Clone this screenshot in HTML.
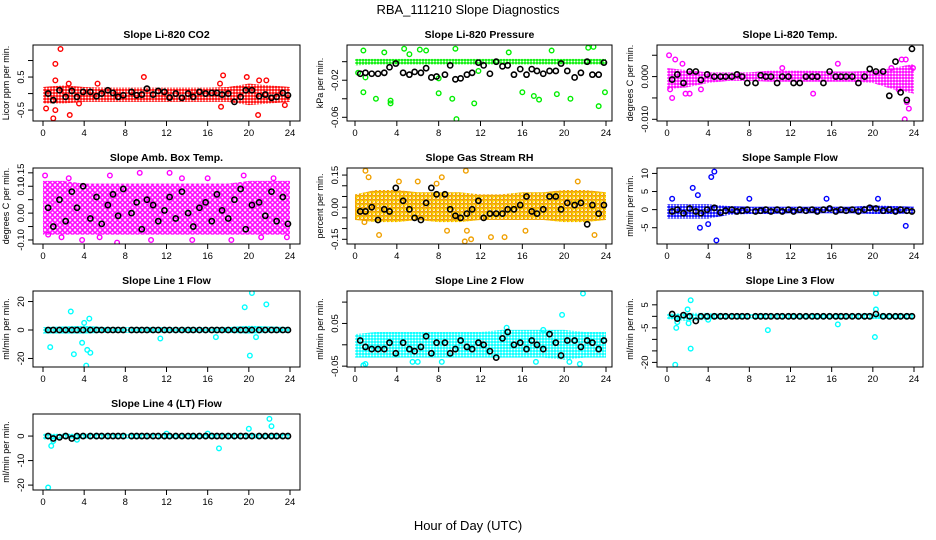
<!DOCTYPE html>
<html><head><meta charset="utf-8"><style>
html,body{margin:0;padding:0;background:#fff;}
svg{display:block;font-family:"Liberation Sans",sans-serif;}
</style></head><body>
<svg id="c" width="936" height="540" viewBox="0 0 936 540">
<text x="468" y="14" text-anchor="middle" font-size="13">RBA_111210  Slope Diagnostics</text>
<text x="468" y="530" text-anchor="middle" font-size="13">Hour of Day (UTC)</text>
</svg>
<script>
const bx=[0.5,1,1.6,2.2,2.8,3.3,3.9,4.6,5.2,5.7,6.3,6.8,7.3,7.8,8.6,9.1,9.6,10.1,10.7,11.2,11.8,12.3,12.9,13.5,14.1,14.6,15.2,15.8,16.4,16.9,17.4,18,18.6,19.2,19.7,20.3,21,21.6,22.2,22.7,23.3,23.8];
const bandX=[0,2,4,6,8,10,12,14,16,18,20,22,24];
const xTicks=[0,4,8,12,16,20,24];

const co2Lo=[-0.3,-0.3,-0.25,-0.25,-0.25,-0.25,-0.25,-0.25,-0.25,-0.25,-0.35,-0.3,-0.25];
const co2Hi=[0.2,0.25,0.2,0.18,0.18,0.18,0.18,0.18,0.18,0.2,0.3,0.25,0.2];
const co2OutX=[1.7,1.2,1.0,0.3,1.2,2.6,1.2,2.5,5.3,9.8,17.3,17.5,19.8,20.9,21.0,21.7,23.5,17.2,3.5];
const co2OutY=[1.35,0.9,-0.75,-0.45,-0.5,-0.65,0.4,0.3,0.3,0.5,-0.4,0.55,0.5,-0.65,0.4,0.4,-0.35,0.3,-0.3];
const co2Black=[0,-0.2,0.1,-0.1,0.08,-0.1,0.05,0.05,-0.08,0,0.1,0.02,-0.1,-0.05,0.05,-0.05,-0.03,0.15,-0.03,0.08,0.05,-0.12,0,-0.13,0,-0.1,0.05,0,0.02,0.02,-0.03,0,-0.25,-0.1,0.1,0.1,-0.08,-0.03,-0.13,-0.1,0.02,-0.05];

const presLo=[-0.004,-0.003,-0.003,-0.003,-0.003,-0.003,-0.003,-0.003,-0.003,-0.003,-0.003,-0.003,-0.003];
const presHi=[0.003,0.003,0.003,0.003,0.003,0.003,0.003,0.003,0.003,0.003,0.003,0.003,0.003];
const presOutX=[0.8,0.3,1.0,0.8,2.0,3.4,3.4,4.7,6.2,6.8,8,8,9.3,9.7,9.6,11.4,11.8,14.7,16,17.1,17.6,18.8,19.3,20.6,22.8,23.3,23.9,22.3,2.8,5.2];
const presOutY=[0.012,-0.012,-0.017,-0.033,-0.04,-0.042,-0.045,0.014,0.013,0.012,-0.034,-0.018,-0.04,-0.062,0.014,-0.045,-0.01,0.01,-0.033,-0.037,-0.041,0.012,-0.035,-0.04,0.016,-0.048,-0.033,0.015,0.01,0.008];
const presBlack=[-0.013,-0.012,-0.013,-0.013,-0.012,-0.006,-0.002,-0.012,-0.014,-0.011,-0.012,-0.007,-0.017,-0.016,-0.014,-0.004,-0.019,-0.018,-0.014,-0.012,-0.001,-0.004,-0.013,0,-0.005,-0.004,-0.014,-0.008,-0.014,-0.008,-0.01,-0.013,-0.01,-0.01,-0.002,-0.01,-0.017,-0.012,0,-0.014,-0.014,-0.001];

const tempLo=[-0.003,-0.0025,-0.0015,-0.001,-0.001,-0.0012,-0.0012,-0.0012,-0.0012,-0.0012,-0.0015,-0.003,-0.004];
const tempHi=[0.002,0.0015,0.001,0.001,0.001,0.0014,0.0014,0.0014,0.0012,0.0012,0.0014,0.002,0.003];
const tempOutX=[0.2,0.8,1.5,0.5,0.3,1.8,2.2,3.3,11.2,14.2,16.6,22.5,22.8,23.2,23.1,23.5,23.3,23.9,21.8];
const tempOutY=[0.005,0.004,0.003,-0.005,-0.003,-0.004,-0.004,-0.003,0.002,-0.004,0.003,-0.003,0.004,0.004,-0.010,-0.0075,-0.006,0.002,0.002];
const tempBlack=[-0.0007,0.0005,-0.0015,0.0012,0.0012,-0.0008,0.0005,0,0,0,0,0.0005,0,-0.0015,-0.0015,0.0003,0,0,-0.0015,0,0,-0.0015,-0.0015,0,0,0,-0.0015,0.0012,0,0,0,0,-0.0015,0,0.0018,0.0012,0.0012,-0.0045,0.0035,-0.0037,-0.0055,0.0065];

const ambLo=[-0.08,-0.08,-0.08,-0.08,-0.08,-0.08,-0.08,-0.08,-0.08,-0.08,-0.08,-0.08,-0.08];
const ambHi=[0.12,0.12,0.11,0.11,0.11,0.11,0.11,0.11,0.11,0.11,0.12,0.12,0.12];
const ambOutX=[0.2,0.5,1.8,2.5,3.8,6.5,7.2,9.4,10.5,12.3,14.5,16,18.3,19.5,21.2,22.4,23.7,5.5,13.5];
const ambOutY=[0.14,-0.08,-0.09,0.13,-0.1,0.14,-0.11,0.15,-0.1,0.15,-0.1,0.13,-0.1,0.14,-0.09,0.13,-0.09,-0.09,0.13];
const ambBlack=[0.02,-0.05,0.05,-0.03,0.08,0.02,0.1,-0.02,0.06,-0.04,0.03,0.07,-0.01,0.09,0,0.04,-0.06,0.05,0.03,-0.03,0.01,0.06,-0.02,0.08,0,-0.05,0.02,0.04,-0.03,0.07,0.01,-0.02,0.05,0.09,-0.06,0.03,0.04,-0.01,0.08,-0.03,0.06,-0.04];

const rhLo=[-0.06,-0.07,-0.07,-0.06,-0.07,-0.07,-0.06,-0.06,-0.06,-0.06,-0.07,-0.07,-0.06];
const rhHi=[0.06,0.08,0.08,0.07,0.07,0.07,0.06,0.06,0.07,0.07,0.08,0.08,0.07];
const rhOutX=[1,1.3,2.3,0.9,10.6,10.5,11.1,13,14.3,16.3,22.9,8.3,7.8,6,4.2,21.3,8.8,10.7];
const rhOutY=[0.17,0.14,-0.13,-0.07,0.17,-0.16,-0.15,-0.14,-0.14,-0.11,-0.13,0.14,0.11,0.12,0.12,0.12,-0.11,-0.11];
const rhBlack=[-0.02,-0.02,0,-0.06,-0.01,-0.02,0.09,0.03,-0.01,-0.05,-0.06,0.02,0.09,0.06,0.06,-0.01,-0.04,-0.05,-0.03,-0.01,0.03,-0.05,-0.03,-0.03,-0.03,-0.01,-0.01,0.01,0.05,-0.02,-0.03,-0.01,0.05,0.05,-0.01,0.02,0.01,0.02,-0.08,0.01,-0.03,0.01];

const sfLo=[-2.5,-2.5,-2.5,-1.5,-1.2,-1.2,-1,-1,-1,-1,-1.2,-1.2,-1];
const sfHi=[1.5,1.5,1.5,1,0.8,0.8,0.8,0.8,0.8,0.8,1.2,1,0.8];
const sfOutX=[4.6,4.3,2.5,4.8,3.2,4,0.5,20.5,23.2,15.5,3,8];
const sfOutY=[10.5,9,6,-8.5,-5,-4,3,3,-4.5,3,4,3];
const sfBlack=[-0.5,0,-1,0.3,-0.5,-1,0,0.5,-0.8,-0.3,0,-0.5,-0.3,0,-0.5,-0.3,0,-0.5,0,-0.5,0,-0.5,0,-0.3,0,-0.5,0,0.3,-0.5,0,-0.3,0,-0.5,0,0.5,0.3,-0.3,0,-0.5,0,-0.3,-0.5];

const l1Lo=[-2.5,-2.5,-2.5,-2,-2,-2,-2,-2,-2,-2,-2.5,-2,-2];
const l1Hi=[2,2.5,3,2,2,2,2,2,2,2,3,2.5,2];
const l1OutX=[2.7,3,0.7,4.3,4.2,4.6,4.5,4,19.6,20.3,21.7,20.1,3.8,11.4,16.8,20.7];
const l1OutY=[13,-17,-12,-14,-25,-16,8,5,16,26,18,-18,-9,-6,-5,-5];
const l1Black=[0,0,0,0,0,0,0,0,0,0,0,0,0,0,0,0,0,0,0,0,0,0,0,0,0,0,0,0,0,0,0,0,0,0,0,0,0,0,0,0,0,0];

const l2Lo=[-0.03,-0.03,-0.03,-0.03,-0.03,-0.03,-0.03,-0.03,-0.03,-0.03,-0.035,-0.03,-0.03];
const l2Hi=[0.025,0.03,0.03,0.03,0.03,0.03,0.03,0.035,0.035,0.035,0.035,0.03,0.03];
const l2OutX=[21.8,19.8,0.8,1,5.5,6,17.3,20.5,21.5,8.3,14.5,18];
const l2OutY=[0.12,0.07,-0.048,-0.045,-0.04,-0.04,-0.04,-0.04,-0.045,-0.04,0.04,0.035];
const l2Black=[0.01,-0.005,-0.01,-0.01,-0.01,0.005,-0.02,0.005,-0.01,-0.015,-0.005,0.02,-0.02,0.005,0.005,-0.02,-0.01,0.01,-0.005,-0.01,0.005,0,-0.015,-0.03,0.015,0.03,0,0.005,-0.01,0.01,0,-0.01,0.025,0.005,-0.025,0.01,0.01,-0.005,0.01,0.005,-0.01,0.01];

const l3Lo=[-1.2,-2,-1.5,-1,-1,-1,-1,-1,-1,-1,-1.2,-1,-1];
const l3Hi=[1.2,1.5,1.5,1,1,1,1,1,1,1,1.5,1.2,1.2];
const l3OutX=[0.8,0.9,2.3,2.3,2,2.1,9.8,16.6,20.2,20.3,20.3,1,4];
const l3OutY=[-21,-5,-14,7,3,-3,-6,-3.5,-9,10,3,-2.5,-1.5];
const l3Black=[1,-1,0.5,0,-2,0,0,0,0,0,0,0,0,0,0,0,0,0,0,0,0,0,0,0,0,0,0,0,0,0,0,0,0,0,0,1,0,0,0,0,0,0];

const l4Lo=[-1.5,-1,-1,-1,-1,-1,-1,-1,-1,-1,-1,-1,-1];
const l4Hi=[1,1,1,1,1,1,1,1,1,1,1,1,1];
const l4OutX=[0.5,0.8,1,17.1,22,22.2,20,3.3,16,12];
const l4OutY=[-21,-4,-2,-5,7,4,3,-1.5,1,1];
const l4Black=[0,-1,-0.5,0,-1,0,0,0,0,0,0,0,0,0,0,0,0,0,0,0,0,0,0,0,0,0,0,0,0,0,0,0,0,0,0,0,0,0,0,0,0,0];

const panels=[
 {name:"li820-co2",title:"Slope Li-820 CO2",ylab:"Licor ppm per min.",col:0,row:0,yMin:-0.83,yMax:1.47,ticks:[-0.5,0,0.5,1],labels:["-0.5","","0.5",""],color:"#ff0000",pat:3,lo:co2Lo,hi:co2Hi,ox:co2OutX,oy:co2OutY,bk:co2Black},
 {name:"li820-pressure",title:"Slope Li-820 Pressure",ylab:"kPa per min.",col:1,row:0,yMin:-0.064,yMax:0.018,ticks:[-0.06,-0.04,-0.02,0],labels:["-0.06","","-0.02",""],color:"#00ee00",pat:3,lo:presLo,hi:presHi,ox:presOutX,oy:presOutY,bk:presBlack},
 {name:"li820-temp",title:"Slope Li-820 Temp.",ylab:"degrees C per min.",col:2,row:0,yMin:-0.0104,yMax:0.0074,ticks:[-0.01,-0.005,0,0.005],labels:["-0.010","","0.000",""],color:"#ff00ff",pat:3,lo:tempLo,hi:tempHi,ox:tempOutX,oy:tempOutY,bk:tempBlack},
 {name:"amb-box-temp",title:"Slope Amb. Box Temp.",ylab:"degrees C per min.",col:0,row:1,yMin:-0.115,yMax:0.168,ticks:[-0.1,-0.05,0,0.05,0.1,0.15],labels:["-0.10","","0.00","","0.10","0.15"],color:"#ff00ff",pat:5,lo:ambLo,hi:ambHi,ox:ambOutX,oy:ambOutY,bk:ambBlack},
 {name:"gas-stream-rh",title:"Slope Gas Stream RH",ylab:"percent per min.",col:1,row:1,yMin:-0.172,yMax:0.183,ticks:[-0.15,-0.1,-0.05,0,0.05,0.1,0.15],labels:["-0.15","","","0.00","","","0.15"],color:"#f0a000",pat:4,lo:rhLo,hi:rhHi,ox:rhOutX,oy:rhOutY,bk:rhBlack},
 {name:"sample-flow",title:"Slope Sample Flow",ylab:"ml/min per min.",col:2,row:1,yMin:-9.5,yMax:11.5,ticks:[-5,0,5,10],labels:["-5","0","5","10"],color:"#0000ff",pat:3,lo:sfLo,hi:sfHi,ox:sfOutX,oy:sfOutY,bk:sfBlack},
 {name:"line1-flow",title:"Slope Line 1 Flow",ylab:"ml/min per min.",col:0,row:2,yMin:-26,yMax:27.4,ticks:[-20,0,20],labels:["-20","0","20"],color:"#00ffff",pat:3,lo:l1Lo,hi:l1Hi,ox:l1OutX,oy:l1OutY,bk:l1Black},
 {name:"line2-flow",title:"Slope Line 2 Flow",ylab:"ml/min per min.",col:1,row:2,yMin:-0.052,yMax:0.126,ticks:[-0.05,0,0.05,0.1],labels:["-0.05","","0.05",""],color:"#00ffff",pat:3,lo:l2Lo,hi:l2Hi,ox:l2OutX,oy:l2OutY,bk:l2Black},
 {name:"line3-flow",title:"Slope Line 3 Flow",ylab:"ml/min per min.",col:2,row:2,yMin:-22,yMax:11,ticks:[-20,-15,-10,-5,0,5],labels:["-20","","","-5","","5"],color:"#00ffff",pat:3,lo:l3Lo,hi:l3Hi,ox:l3OutX,oy:l3OutY,bk:l3Black},
 {name:"line4-flow",title:"Slope Line 4 (LT) Flow",ylab:"ml/min per min.",col:0,row:3,yMin:-22,yMax:9,ticks:[-20,-10,0],labels:["-20","-10","0"],color:"#00ffff",pat:3,lo:l4Lo,hi:l4Hi,ox:l4OutX,oy:l4OutY,bk:l4Black}
];
const cols=[{l:33,r:300,x0:43,x24:290},{l:347,r:612,x0:355,x24:606},{l:657,r:923,x0:667,x24:914}];
const rowsTop=[45,168,291,414];
const H=76;
const NS="http://www.w3.org/2000/svg";
const svg=document.getElementById('c');
function mk(tag,attrs,parent){const e=document.createElementNS(NS,tag);for(const k in attrs)e.setAttribute(k,attrs[k]);parent.appendChild(e);return e;}
const defs=mk('defs',{},svg);

panels.forEach(p=>{
  const c=cols[p.col],top=rowsTop[p.row],bot=top+H;
  const xs=v=>c.x0+(c.x24-c.x0)*v/24;
  const ys=v=>bot-(v-p.yMin)/(p.yMax-p.yMin)*H;
  const pat=mk('pattern',{id:'pt-'+p.name,width:p.pat,height:p.pat,patternUnits:'userSpaceOnUse'},defs);
  mk('circle',{cx:p.pat/2,cy:p.pat/2,r:1.8,fill:'none',stroke:p.color,'stroke-width':'1.5'},pat);
  if(p.name==='gas-stream-rh'){mk('circle',{cx:0,cy:0,r:1.8,fill:'none',stroke:'#ffe000','stroke-width':'1.4'},pat);}
  const g=mk('g',{},svg);
  
  
  const clip=mk('clipPath',{id:'cl-'+p.name},g);
  mk('rect',{x:c.l,y:top,width:c.r-c.l,height:H},clip);
  const t=mk('text',{x:(c.l+c.r)/2,y:top-7,'text-anchor':'middle','font-size':'10.5','font-weight':'bold'},g);
  t.textContent=p.title;
  
  
  const yl=mk('text',{x:0,y:0,'text-anchor':'middle','font-size':'9',transform:`translate(${c.l-24},${top+H/2}) rotate(-90)`},g);
  yl.textContent=p.ylab;
  
  
  const pg=mk('g',{'clip-path':`url(#cl-${p.name})`},g);
  let pts=p.lo.map((v,i)=>xs(bandX[i])+','+ys(p.hi[i]));
  let pts2=p.lo.map((v,i)=>xs(bandX[i])+','+ys(v)).reverse();
  const band=mk('polygon',{points:pts.concat(pts2).join(' '),fill:`url(#pt-${p.name})`,stroke:'none'},pg);
  
  
  p.ox.forEach((x,i)=>{
    const ci=mk('circle',{cx:xs(x),cy:ys(p.oy[i]),r:2.3,fill:'none',stroke:p.color,'stroke-width':'1.4'},pg);
    
    
  });
  p.bk.forEach((v,i)=>{
    const ci=mk('circle',{cx:xs(bx[i]),cy:ys(v),r:2.6,fill:'none',stroke:'#000','stroke-width':'1.6'},pg);
    
    
  });
  const box=mk('rect',{x:c.l,y:top,width:c.r-c.l,height:H,fill:'none',stroke:'#000','stroke-width':'1'},g);
  
  
  xTicks.forEach(v=>{
    const x=xs(v);
    mk('line',{x1:x,x2:x,y1:bot,y2:bot+5,stroke:'#000'},g);
    const tl=mk('text',{x:x,y:bot+15,'text-anchor':'middle','font-size':'9.5'},g);
    tl.textContent=v;
    
    
  });
  p.ticks.forEach((v,i)=>{
    const y=ys(v);
    mk('line',{x1:c.l-5,x2:c.l,y1:y,y2:y,stroke:'#000'},g);
    if(p.labels[i]){
      const tl=mk('text',{x:0,y:0,'text-anchor':'middle','font-size':'9.5',transform:`translate(${c.l-9},${y}) rotate(-90)`},g);
      tl.textContent=p.labels[i];
      
      
    }
  });
});
</script>
</body></html>
